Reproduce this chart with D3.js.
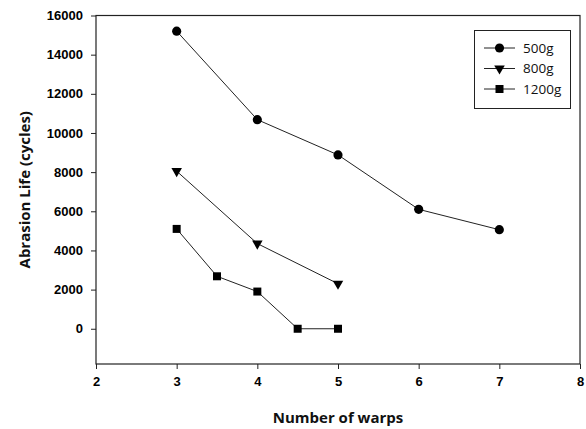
<!DOCTYPE html>
<html>
<head>
<meta charset="utf-8">
<script src="https://cdn.jsdelivr.net/npm/d3@7"></script>
<style>
  body { margin: 0; background: #fff; }
  .tick text { font-family: "Liberation Sans", Arial, sans-serif; font-weight: bold; font-size: 13px; fill: #000; }
  .axis-title { font-family: "Open Sans", "Noto Sans", sans-serif; font-weight: bold; font-size: 15px; fill: #111; }
  .legend text { font-family: "Open Sans", "Noto Sans", sans-serif; font-size: 13.5px; fill: #111; }
</style>
</head>
<body>
<div id="chart"></div>
<script>
const W = 586, H = 429;
const MARGIN = { top: 15.5, right: 6, bottom: 65, left: 96 };

// data
const seriesNames = ["500g", "800g", "1200g"];
const warps500 = [3, 4, 5, 6, 7];
const life500 = [15200, 10680, 8880, 6100, 5060];
const warps800 = [3, 4, 5];
const life800 = [8050, 4350, 2300];
const warps1200 = [3, 3.5, 4, 4.5, 5];
const life1200 = [5100, 2680, 1900, 0, 0];
const xTicks = [2, 3, 4, 5, 6, 7, 8];
const yTicks = [0, 2000, 4000, 6000, 8000, 10000, 12000, 14000, 16000];

const series = [
  { name: seriesNames[0], shape: "circle", pts: warps500.map((x, i) => ({ x, y: life500[i] })) },
  { name: seriesNames[1], shape: "triangle", pts: warps800.map((x, i) => ({ x, y: life800[i] })) },
  { name: seriesNames[2], shape: "square", pts: warps1200.map((x, i) => ({ x, y: life1200[i] })) }
];

const innerW = W - MARGIN.left - MARGIN.right;
const innerH = H - MARGIN.top - MARGIN.bottom;

const svg = d3.select("#chart").append("svg").attr("width", W).attr("height", H);
const g = svg.append("g").attr("transform", `translate(${MARGIN.left},${MARGIN.top})`);

const x = d3.scaleLinear().domain([2, 8]).range([0, innerW]);
const y = d3.scaleLinear().domain([-1800, 16000]).range([innerH, 0]);

// frame
g.append("rect").attr("width", innerW).attr("height", innerH)
  .attr("fill", "none").attr("stroke", "#222").attr("stroke-width", 1.2);

const gx = g.append("g").attr("transform", `translate(0,${innerH})`)
  .call(d3.axisBottom(x).tickValues(xTicks).tickFormat(d3.format("d")).tickSize(5).tickPadding(8));
const gy = g.append("g")
  .call(d3.axisLeft(y).tickValues(yTicks).tickFormat(d => d).tickSize(5).tickPadding(8));
[gx, gy].forEach(a => {
  a.select(".domain").remove();
  a.selectAll(".tick line").attr("stroke", "#222");
});

// titles
g.append("text").attr("class", "axis-title")
  .attr("x", innerW / 2).attr("y", innerH + 59)
  .attr("text-anchor", "middle").text("Number of warps");
g.append("text").attr("class", "axis-title")
  .attr("transform", "rotate(-90)")
  .attr("x", -innerH / 2).attr("y", -66)
  .attr("text-anchor", "middle").text("Abrasion Life (cycles)");

const line = d3.line().x(d => x(d.x)).y(d => y(d.y));
const symbolFor = {
  circle: d3.symbol().type(d3.symbolCircle).size(66),
  square: d3.symbol().type(d3.symbolSquare).size(64),
  triangle: d3.symbol().type(d3.symbolTriangle).size(48)
};

function drawMarker(sel, shape) {
  const p = sel.append("path").attr("d", symbolFor[shape]()).attr("fill", "#000");
  if (shape === "triangle") p.attr("transform", "rotate(180)");
  return p;
}

series.forEach(s => {
  g.append("path").datum(s.pts).attr("d", line)
    .attr("fill", "none").attr("stroke", "#222").attr("stroke-width", 1);
  s.pts.forEach(d => {
    const m = g.append("g").attr("transform", `translate(${x(d.x)},${y(d.y)})`);
    drawMarker(m, s.shape);
  });
});

// legend
const lg = svg.append("g").attr("class", "legend");
lg.append("rect").attr("x", 474.5).attr("y", 30.5).attr("width", 96).attr("height", 78)
  .attr("fill", "#fff").attr("stroke", "#222").attr("stroke-width", 1);
series.forEach((s, i) => {
  const yy = 48 + i * 20.5;
  const row = lg.append("g").attr("transform", `translate(0,${yy})`);
  row.append("line").attr("x1", 484).attr("x2", 515).attr("y1", 0).attr("y2", 0)
    .attr("stroke", "#222").attr("stroke-width", 1);
  const m = row.append("g").attr("transform", "translate(499.5,0)");
  drawMarker(m, s.shape);
  row.append("text").attr("x", 523).attr("y", 0).attr("dy", "0.35em").text(s.name);
});
</script>
</body>
</html>
